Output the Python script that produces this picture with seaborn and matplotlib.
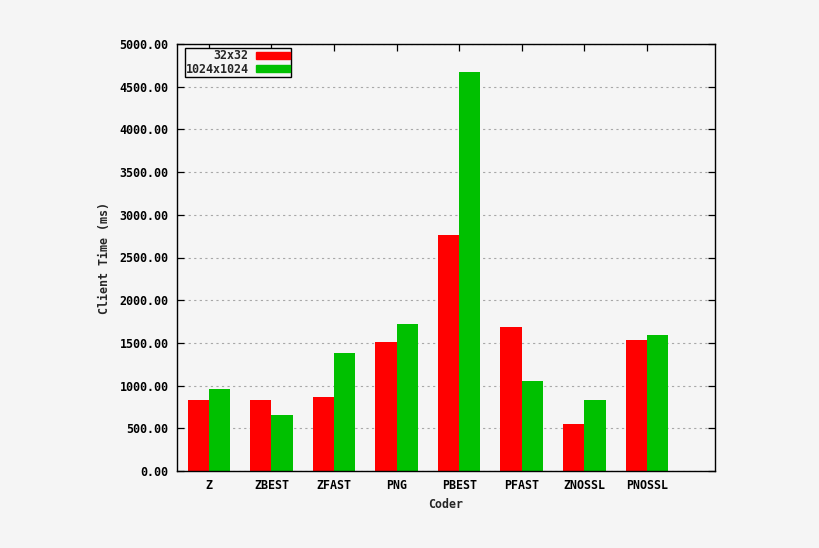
import pandas as pd
import matplotlib
matplotlib.use("Agg")
import matplotlib.pyplot as plt
import matplotlib.patches as mpatches
import seaborn as sns

# ── DATA ─────────────────────────────────────────────────────────────────────
coders = ["Z", "ZBEST", "ZFAST", "PNG", "PBEST", "PFAST", "ZNOSSL", "PNOSSL"]
small_times = [830, 830, 865, 1510, 2765, 1690, 550, 1535]      # 32x32
large_times = [960, 655, 1385, 1720, 4675, 1055, 830, 1595]     # 1024x1024
series = ["32x32", "1024x1024"]
yticks = [0, 500, 1000, 1500, 2000, 2500, 3000, 3500, 4000, 4500, 5000]

df = pd.DataFrame({
    "Coder": coders * 2,
    "size": [series[0]] * len(coders) + [series[1]] * len(coders),
    "time": small_times + large_times,
})

BG = "#f5f5f5"
RED = "#ff0000"
GREEN = "#00c000"

sns.set_theme(style="ticks")
plt.rcParams["font.family"] = ["DejaVu Sans Mono"]
plt.rcParams["font.weight"] = "bold"

fig = plt.figure(figsize=(8.2, 5.48), dpi=100, facecolor=BG)
ax = fig.add_axes([177 / 820, 77 / 548, 538 / 820, 427 / 548])
ax.set_facecolor(BG)

sns.barplot(data=df, x="Coder", y="time", hue="size", hue_order=series,
            palette=[RED, GREEN], width=0.68, saturation=1,
            linewidth=0, ax=ax, legend=False)

ax.set_xlim(-0.51, 8.09)
ax.set_ylim(0, 5000)
ax.set_yticks(yticks)
ax.set_yticklabels([f"{v:.2f}" for v in yticks])
ax.yaxis.grid(True, linestyle=(0, (2, 3)), color="#a8a8a8", linewidth=0.8)
ax.set_axisbelow(True)

ax.tick_params(axis="both", direction="in", length=5, width=0.9,
               top=True, right=True, labelsize=8.4, pad=6, colors="black")
for s in ax.spines.values():
    s.set_color("black")
    s.set_linewidth(1.0)
    s.set_visible(True)

ax.set_xlabel("Coder", fontsize=8.4, fontweight="bold", labelpad=4)
ax.set_ylabel("Client Time (ms)", fontsize=8.4, fontweight="bold", labelpad=6)

handles = [mpatches.Patch(color=RED), mpatches.Patch(color=GREEN)]
leg = ax.legend(handles, series, loc="upper left", bbox_to_anchor=(0.014, 0.99),
                markerfirst=False, fontsize=8.4, handlelength=2.9, handleheight=0.55,
                handletextpad=0.6, borderpad=0.1, labelspacing=0.05,
                fancybox=False, framealpha=1, borderaxespad=0)
leg.get_frame().set_edgecolor("black")
leg.get_frame().set_facecolor(BG)
leg.get_frame().set_linewidth(1.0)
for t in leg.get_texts():
    t.set_ha("right")
leg._legend_box.align = "right"

plt.savefig("out.png", dpi=100, facecolor=BG)
